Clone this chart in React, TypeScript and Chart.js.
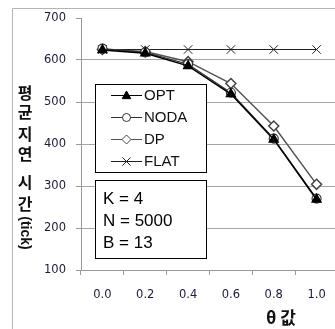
import React, { useEffect, useRef } from "react";
import { Chart, registerables } from "chart.js";

Chart.register(...registerables);

const categories = ["0.0", "0.2", "0.4", "0.6", "0.8", "1.0"];
const optValues = [624, 616, 586, 519, 411, 268];
const nodaValues = [627, 618, 590, 522, 413, 270];
const dpValues = [625, 620, 596, 544, 443, 304];
const flatValues = [625, 625, 625, 625, 625, 625];
const yTicks = [100, 200, 300, 400, 500, 600, 700];
const yTitleChars = ["평", "균", "지", "연", "시", "간"];
const yTitleTail = "(tick)";
const xTitle = "θ 값";
const infoLines = ["K = 4", "N = 5000", "B = 13"];

function drawMarker(ctx: CanvasRenderingContext2D, style: string, x: number, y: number, r: number, fill: string, stroke: string) {
  ctx.save();
  ctx.fillStyle = fill;
  ctx.strokeStyle = stroke;
  ctx.lineWidth = 1;
  ctx.beginPath();
  if (style === "triangle") {
    ctx.moveTo(x, y - r);
    ctx.lineTo(x + r * 0.95, y + r * 0.7);
    ctx.lineTo(x - r * 0.95, y + r * 0.7);
    ctx.closePath();
    ctx.fill();
    ctx.stroke();
  } else if (style === "circle") {
    ctx.arc(x, y, r, 0, Math.PI * 2);
    ctx.fill();
    ctx.stroke();
  } else if (style === "rectRot") {
    ctx.moveTo(x, y - r);
    ctx.lineTo(x + r, y);
    ctx.lineTo(x, y + r);
    ctx.lineTo(x - r, y);
    ctx.closePath();
    ctx.fill();
    ctx.stroke();
  } else if (style === "crossRot") {
    const d = r * 0.75;
    ctx.moveTo(x - d, y - d);
    ctx.lineTo(x + d, y + d);
    ctx.moveTo(x + d, y - d);
    ctx.lineTo(x - d, y + d);
    ctx.stroke();
  }
  ctx.restore();
}

const decorPlugin = {
  id: "decor",
  beforeDraw(chart: any) {
    const ctx = chart.ctx as CanvasRenderingContext2D;
    ctx.save();
    ctx.fillStyle = "#ffffff";
    ctx.fillRect(0, 0, chart.width, chart.height);
    ctx.strokeStyle = "#b4b4b4";
    ctx.lineWidth = 1;
    ctx.beginPath();
    ctx.moveTo(12.5, chart.height);
    ctx.lineTo(12.5, 8.5);
    ctx.lineTo(chart.width, 8.5);
    ctx.stroke();
    ctx.restore();
  },
  afterDraw(chart: any) {
    const ctx = chart.ctx as CanvasRenderingContext2D;
    ctx.save();
    // Y title, stacked Korean characters
    ctx.fillStyle = "#111111";
    ctx.font = "bold 16px 'Noto Sans CJK KR', sans-serif";
    ctx.textAlign = "center";
    ctx.textBaseline = "middle";
    const ys = [93, 112, 134, 154, 182, 204];
    yTitleChars.forEach((c, i) => ctx.fillText(c, 25, ys[i]));
    ctx.save();
    ctx.translate(25, 233);
    ctx.rotate(Math.PI / 2);
    ctx.font = "bold 14px 'Liberation Sans', Arial, sans-serif";
    ctx.fillText(yTitleTail, 0, 0);
    ctx.restore();

    // X title
    ctx.font = "bold 17px 'Noto Sans CJK KR', sans-serif";
    ctx.fillText(xTitle, 281, 318);

    // Legend box
    ctx.fillStyle = "#ffffff";
    ctx.fillRect(95.5, 84.5, 111, 88);
    ctx.strokeStyle = "#000000";
    ctx.lineWidth = 1;
    ctx.strokeRect(95.5, 84.5, 111, 88);
    const itemYs = [95, 117, 139, 161];
    chart.data.datasets.forEach((ds: any, i: number) => {
      const y = itemYs[i] + 0.5;
      ctx.strokeStyle = ds.borderColor;
      ctx.lineWidth = 1;
      ctx.beginPath();
      ctx.moveTo(111, y);
      ctx.lineTo(142, y);
      ctx.stroke();
      drawMarker(ctx, ds.pointStyle, 126.5, y, ds.pointRadius - 0.5, ds.pointBackgroundColor, ds.pointBorderColor);
      ctx.fillStyle = "#111111";
      ctx.font = "15px 'Liberation Sans', Arial, sans-serif";
      ctx.textAlign = "left";
      ctx.textBaseline = "middle";
      ctx.fillText(ds.label, 144, y + 0.5);
    });

    // Info box
    ctx.fillStyle = "#ffffff";
    ctx.fillRect(95.5, 180.5, 111, 78);
    ctx.strokeStyle = "#000000";
    ctx.strokeRect(95.5, 180.5, 111, 78);
    ctx.fillStyle = "#000000";
    ctx.font = "17px 'Liberation Sans', Arial, sans-serif";
    ctx.textAlign = "left";
    ctx.textBaseline = "middle";
    const lys = [199, 221, 243];
    infoLines.forEach((t, i) => ctx.fillText(t, 103, lys[i]));
    ctx.restore();
  },
};

export default function App() {
  const ref = useRef<HTMLCanvasElement | null>(null);
  useEffect(() => {
    if (!ref.current) return;
    const chart = new Chart(ref.current, {
      type: "line",
      data: {
        labels: categories,
        datasets: [
          {
            label: "OPT",
            data: optValues,
            borderColor: "#000000",
            borderWidth: 1.5,
            pointStyle: "triangle",
            pointRadius: 5,
            pointBackgroundColor: "#000000",
            pointBorderColor: "#000000",
          },
          {
            label: "NODA",
            data: nodaValues,
            borderColor: "#333333",
            borderWidth: 1.2,
            pointStyle: "circle",
            pointRadius: 4.5,
            pointBackgroundColor: "#ffffff",
            pointBorderColor: "#333333",
          },
          {
            label: "DP",
            data: dpValues,
            borderColor: "#555555",
            borderWidth: 1.5,
            pointStyle: "rectRot",
            pointRadius: 5,
            pointBackgroundColor: "#ffffff",
            pointBorderColor: "#444444",
          },
          {
            label: "FLAT",
            data: flatValues,
            borderColor: "#222222",
            borderWidth: 1,
            pointStyle: "crossRot",
            pointRadius: 6,
            pointBackgroundColor: "#222222",
            pointBorderColor: "#222222",
          },
        ] as any,
      },
      options: {
        responsive: false,
        animation: false,
        layout: { padding: { top: 18, right: 4, left: 0, bottom: 0 } },
        plugins: { legend: { display: false }, tooltip: { enabled: false }, title: { display: false } },
        elements: { line: { tension: 0 } },
        scales: {
          x: {
            type: "category",
            offset: true,
            grid: {
              display: true,
              offset: true,
              drawOnChartArea: false,
              drawTicks: true,
              tickLength: 5,
              color: "#9a9a9a",
            },
            border: { display: true, color: "#9a9a9a" },
            ticks: {
              color: "#1a1a3a",
              font: { family: "'DejaVu Sans', Verdana, sans-serif", size: 11.5 },
              padding: 13,
              maxRotation: 0,
            },
            afterFit(scale: any) {
              scale.height = 59;
            },
          },
          y: {
            min: 100,
            max: 700,
            afterBuildTicks(scale: any) {
              scale.ticks = yTicks.map((v) => ({ value: v }));
            },
            grid: {
              color: (c: any) => (c.tick && c.tick.value === 700 ? "rgba(0,0,0,0)" : "#a6a6a6"),
              tickColor: "#9a9a9a",
              tickLength: 5,
            },
            border: { display: true, color: "#9a9a9a" },
            ticks: {
              color: "#1a1a3a",
              font: { family: "'DejaVu Sans', Verdana, sans-serif", size: 11.5 },
              padding: 10,
            },
            afterFit(scale: any) {
              scale.width = 81;
            },
          },
        },
      },
      plugins: [decorPlugin],
    });
    return () => chart.destroy();
  }, []);
  return (
    <div style={{ position: "fixed", left: 0, top: 0, width: 335, height: 329, overflow: "hidden", background: "#fff" }}>
      <canvas ref={ref} width={345} height={329} style={{ display: "block", width: 345, height: 329 }} />
    </div>
  );
}
